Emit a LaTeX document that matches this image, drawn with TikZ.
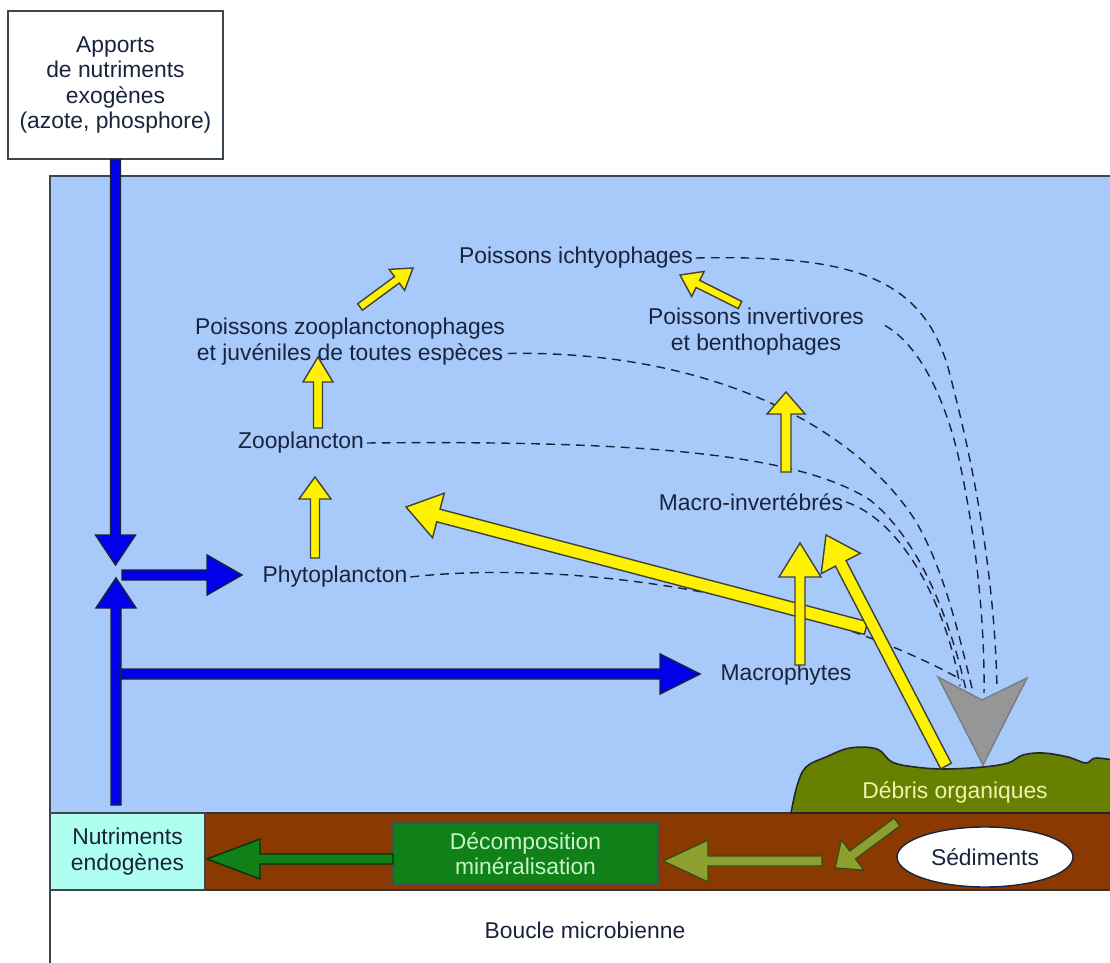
\documentclass[tikz,border=0pt]{standalone}
\usepackage{fontspec}
\setmainfont{Liberation Sans}
\usetikzlibrary{calc,shapes.geometric}

\definecolor{water}{RGB}{168,202,250}
\definecolor{mud}{RGB}{138,58,0}
\definecolor{debris}{RGB}{104,128,0}
\definecolor{debristext}{RGB}{236,244,176}
\definecolor{endo}{RGB}{175,255,240}
\definecolor{decomp}{RGB}{16,128,24}
\definecolor{decomptext}{RGB}{200,245,200}
\definecolor{olive}{RGB}{140,160,48}
\definecolor{navy}{RGB}{25,35,60}
\definecolor{edge}{RGB}{60,70,80}
\definecolor{nutri}{RGB}{0,0,235}
\definecolor{sinkgrey}{RGB}{150,150,150}

% fat arrow: style, from, to, shaft half width, head length, head half width
\newcommand{\fatarrow}[6]{%
  \coordinate (fa-base) at ($(#3)!#5!(#2)$);
  \draw[#1] ($(#2)!#4!90:(#3)$) -- ($(fa-base)!#4!90:(#3)$) -- ($(fa-base)!#6!90:(#3)$)
    -- (#3) -- ($(fa-base)!#6!-90:(#3)$) -- ($(fa-base)!#4!-90:(#3)$)
    -- ($(#2)!#4!-90:(#3)$) -- cycle;
}

\begin{document}
\begin{tikzpicture}[x=0.2mm,y=-0.2mm,
	every node/.style={font=\fontsize{13}{14.4}\selectfont, text=navy, align=center, inner sep=1.5pt},
	blue arrow/.style={fill=nutri, draw=navy, line width=0.8pt},
	yellow arrow/.style={fill=yellow, draw=black!75, line width=0.8pt},
	green arrow/.style={fill=decomp, draw=black!60!decomp, line width=0.8pt},
	olive arrow/.style={fill=olive, draw=black!55!olive, line width=0.8pt},
	flow/.style={draw=navy, line width=0.8pt, dash pattern=on 5pt off 3.5pt}]

	\useasboundingbox (0,0) rectangle (1110,963);

	% lake and sediment
	\fill[water] (50,176) rectangle (1130,813);
	\fill[mud] (50,813) rectangle (1130,890);
	\draw[edge, line width=1.2pt] (1130,176) -- (50,176) -- (50,963);
	\draw[black!80, line width=1pt] (50,813) -- (1130,813);
	\draw[black!80, line width=1pt] (50,890) -- (1130,890);

	\draw[fill=debris, draw=black!85, line width=0.9pt] plot[smooth, tension=0.6] coordinates
		{(791,813) (797,786) (806,767) (826,757) (850,748) (877,749) (892,762) (915,767)
		 (945,769) (983,767) (1008,763) (1023,755) (1043,753) (1068,757) (1086,763) (1097,758) (1130,763)}
		-- (1130,813) -- cycle;

	% labels
	\node (apports) [draw=edge, fill=white, line width=0.8pt, minimum width=43mm, minimum height=29.6mm] at (115.5,85)
		{Apports\\de nutriments\\exogènes\\(azote, phosphore)};
	\node (ichtyo) at (576,258) {Poissons ichtyophages};
	\node (zoopl) at (350,341.5) {Poissons zooplanctonophages\\et juvéniles de toutes espèces};
	\node (invert) at (756,331.5) {Poissons invertivores\\et benthophages};
	\node (zoo) at (301,443) {Zooplancton};
	\node (phyto) at (335,577) {Phytoplancton};
	\node (macroinv) at (751,502) {Macro-invertébrés};
	\node (macrophytes) at (786,675) {Macrophytes};
	\node (debris) [text=debristext] at (955,792) {Débris organiques};
	\node (endo) [fill=endo, draw=edge, line width=0.8pt, minimum width=31mm, minimum height=15.4mm] at (127.5,851.5)
		{Nutriments\\endogènes};
	\node (decomp) [fill=decomp, draw=black!70, line width=0.8pt, text=decomptext, minimum width=53mm, minimum height=12.4mm] at (525.5,854)
		{Décomposition\\minéralisation};
	\node (sediments) [ellipse, fill=white, draw=navy, line width=0.8pt, minimum width=35.2mm, minimum height=12mm] at (985,857) {Sédiments};
	\node (boucle) at (585,930) {Boucle microbienne};

	% arrow ends
	\coordinate (junction-top) at (115.5,565);
	\coordinate (junction-bot) at (116,578);
	\coordinate (endo-up) at (116,805);
	\coordinate (phyto-feed) at (122,575);
	\coordinate (phyto-in) at (242,575);
	\coordinate (macro-feed) at (121,674);
	\coordinate (macro-in) at (700,674);

	\coordinate (phyto-up) at (315,558);
	\coordinate (zoo-low) at (315,477);
	\coordinate (zoo-up) at (318,428);
	\coordinate (zoopl-low) at (318,357);
	\coordinate (zoopl-up) at (360,307);
	\coordinate (ichtyo-left) at (413,268);
	\coordinate (invert-up) at (740,305);
	\coordinate (ichtyo-right) at (680,275);
	\coordinate (macroinv-up) at (786,472);
	\coordinate (invert-low) at (786,392);
	\coordinate (macrophytes-up) at (800,665);
	\coordinate (macroinv-low) at (800,543);
	\coordinate (debris-up) at (946,766);
	\coordinate (macroinv-right) at (826,535);
	\coordinate (macrophytes-out) at (866,628);
	\coordinate (phyto-right) at (406,507);

	\coordinate (decomp-out) at (393,859);
	\coordinate (endo-in) at (207,859);
	\coordinate (sed-out) at (822,861);
	\coordinate (decomp-in) at (663,861);
	\coordinate (debris-down) at (897,822);
	\coordinate (sed-in) at (835,868);

	\coordinate (sink-ichtyo) at (997,690);
	\coordinate (sink-invert) at (984,693);
	\coordinate (sink-zoopl) at (973,692);
	\coordinate (sink-zoo) at (966,690);
	\coordinate (sink-macro) at (960,686);
	\coordinate (sink-phyto) at (962,680);

	% dead matter falling
	\draw[flow] (ichtyo.east) .. controls (850,255) and (925,275) .. (950,375) .. controls (975,470) and (995,580) .. (sink-ichtyo);
	\draw[flow] ([xshift=3.6mm,yshift=1.2mm]invert.east) .. controls (920,345) and (945,400) .. (958,455) .. controls (975,530) and (985,620) .. (sink-invert);
	\draw[flow] ([yshift=-2.4mm]zoopl.east) .. controls (700,350) and (850,420) .. (915,520) .. controls (945,570) and (960,640) .. (sink-zoopl);
	\draw[flow] (zoo.east) .. controls (650,440) and (800,455) .. (870,500) .. controls (920,540) and (950,620) .. (sink-zoo);
	\draw[flow] (macroinv.east) .. controls (900,520) and (945,600) .. (sink-macro);
	\draw[flow] (phyto.east) .. controls (560,560) and (800,590) .. (sink-phyto);

	% nutrients
	\fatarrow{blue arrow}{apports.south}{junction-top}{1mm}{6mm}{4mm}
	\fatarrow{blue arrow}{endo-up}{junction-bot}{1mm}{6mm}{4mm}
	\fatarrow{blue arrow}{phyto-feed}{phyto-in}{1mm}{7mm}{4mm}
	\fatarrow{blue arrow}{macro-feed}{macro-in}{1mm}{8mm}{4mm}

	% food web
	\fatarrow{yellow arrow}{phyto-up}{zoo-low}{0.9mm}{4.4mm}{3.2mm}
	\fatarrow{yellow arrow}{zoo-up}{zoopl-low}{0.9mm}{5mm}{3mm}
	\fatarrow{yellow arrow}{zoopl-up}{ichtyo-left}{0.8mm}{4mm}{2.6mm}
	\fatarrow{yellow arrow}{invert-up}{ichtyo-right}{0.8mm}{4mm}{2.8mm}
	\fatarrow{yellow arrow}{macroinv-up}{invert-low}{1mm}{4.4mm}{3.8mm}
	\fatarrow{yellow arrow}{macrophytes-out}{phyto-right}{1.3mm}{6.7mm}{4.6mm}
	\fatarrow{yellow arrow}{macrophytes-up}{macroinv-low}{1mm}{6.8mm}{4.2mm}
	\fatarrow{yellow arrow}{debris-up}{macroinv-right}{1.2mm}{6.4mm}{4.4mm}

	% recycling
	\fatarrow{green arrow}{decomp-out}{endo-in}{1mm}{10.6mm}{4mm}
	\fatarrow{olive arrow}{sed-out}{decomp-in}{1mm}{9mm}{4.2mm}
	\fatarrow{olive arrow}{debris-down}{sed-in}{1mm}{4.4mm}{3.8mm}

	\draw[fill=sinkgrey, draw=edge!70, line width=0.8pt] (938,677) -- (982,700) -- (1027,678) -- (983,765) -- cycle;

\end{tikzpicture}
\end{document}
